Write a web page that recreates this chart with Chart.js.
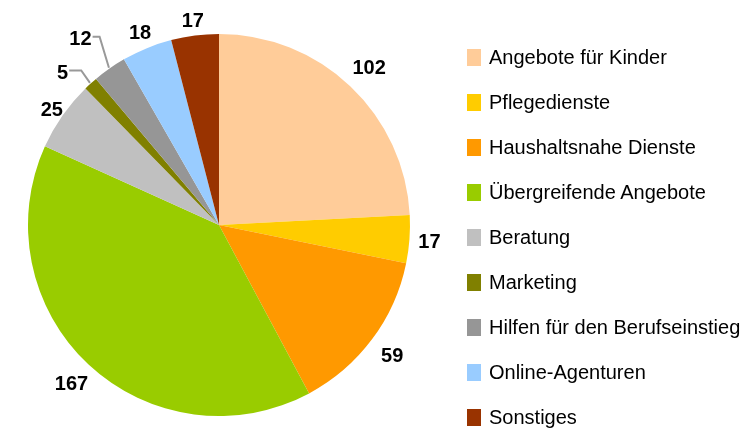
<!DOCTYPE html>
<html>
<head>
<meta charset="utf-8">
<script src="https://cdn.jsdelivr.net/npm/chart.js@4.4.0/dist/chart.umd.min.js"></script>
<style>
  html, body { margin: 0; padding: 0; background: #fff; }
  #wrap { position: relative; width: 744px; height: 428px; }
  #chart { position: absolute; left: 0; top: 0; }
  .legend { position: absolute; left: 467px; top: 0; font-family: "Liberation Sans", Arial, sans-serif; font-size: 20px; color: #000; }
  .legend__row { position: absolute; left: 0; height: 22px; display: flex; align-items: center; white-space: nowrap; }
  .legend__box { width: 14px; height: 17px; margin-right: 8px; flex: none; }
</style>
</head>
<body>
<div id="wrap">
  <canvas id="chart" width="744" height="428"></canvas>
  <div class="legend" id="legend"></div>
</div>
<script>
const categories = [
  'Angebote für Kinder',
  'Pflegedienste',
  'Haushaltsnahe Dienste',
  'Übergreifende Angebote',
  'Beratung',
  'Marketing',
  'Hilfen für den Berufseinstieg',
  'Online-Agenturen',
  'Sonstiges',
];
const values = [102, 17, 59, 167, 25, 5, 12, 18, 17];
const colors = ['#FFCC99', '#FFCC00', '#FF9900', '#99CC00', '#C0C0C0', '#808000', '#969696', '#99CCFF', '#993300'];

// label placement (px beyond the pie edge); small slices get a leader line instead
const labelGap = [27, 20, 25, 25, 13, 0, 0, 18, 16];
const leaders = {
  5: { elbow: 16, turn: 0.5, run: 12 },
  6: { elbow: 32, turn: 2.6, run: 7 },
};

// legend
const legendEl = document.getElementById('legend');
categories.forEach((c, i) => {
  const row = document.createElement('div');
  row.className = 'legend__row';
  row.style.top = (46 + i * 45) + 'px';
  row.innerHTML = `<span class="legend__box" style="background:${colors[i]}"></span><span>${c}</span>`;
  legendEl.appendChild(row);
});

const valueLabels = {
  id: 'valueLabels',
  afterDatasetsDraw(chart) {
    const ctx = chart.ctx;
    const meta = chart.getDatasetMeta(0);
    ctx.save();
    ctx.font = 'bold 20px "Liberation Sans", Arial, sans-serif';
    ctx.fillStyle = '#000';
    ctx.textBaseline = 'middle';
    meta.data.forEach((arc, i) => {
      const { x, y, startAngle, endAngle, outerRadius } = arc.getProps(['x', 'y', 'startAngle', 'endAngle', 'outerRadius'], true);
      const mid = (startAngle + endAngle) / 2;
      const txt = String(values[i]);
      const ld = leaders[i];
      if (ld) {
        const ex = x + Math.cos(mid) * (outerRadius + 1), ey = y + Math.sin(mid) * (outerRadius + 1);
        const a = mid + ld.turn * Math.PI / 180;
        const bx = x + Math.cos(a) * (outerRadius + ld.elbow), by = y + Math.sin(a) * (outerRadius + ld.elbow);
        const hx = bx - ld.run;
        ctx.strokeStyle = '#999';
        ctx.lineWidth = 2;
        ctx.beginPath();
        ctx.moveTo(ex, ey);
        ctx.lineTo(bx, by);
        ctx.lineTo(hx, by);
        ctx.stroke();
        ctx.textAlign = 'right';
        ctx.fillText(txt, hx - 1, by + 3);
      } else {
        const r = outerRadius + labelGap[i];
        ctx.textAlign = 'center';
        ctx.fillText(txt, x + Math.cos(mid) * r, y + Math.sin(mid) * r + 2);
      }
    });
    ctx.restore();
  },
};

new Chart(document.getElementById('chart'), {
  type: 'pie',
  data: {
    labels: categories,
    datasets: [{
      data: values,
      backgroundColor: colors,
      borderWidth: 0,
    }],
  },
  options: {
    responsive: false,
    animation: false,
    layout: { padding: { left: 28, right: 334, top: 34, bottom: 12 } },
    plugins: {
      legend: { display: false },
      tooltip: { enabled: false },
    },
  },
  plugins: [valueLabels],
});
</script>
</body>
</html>
